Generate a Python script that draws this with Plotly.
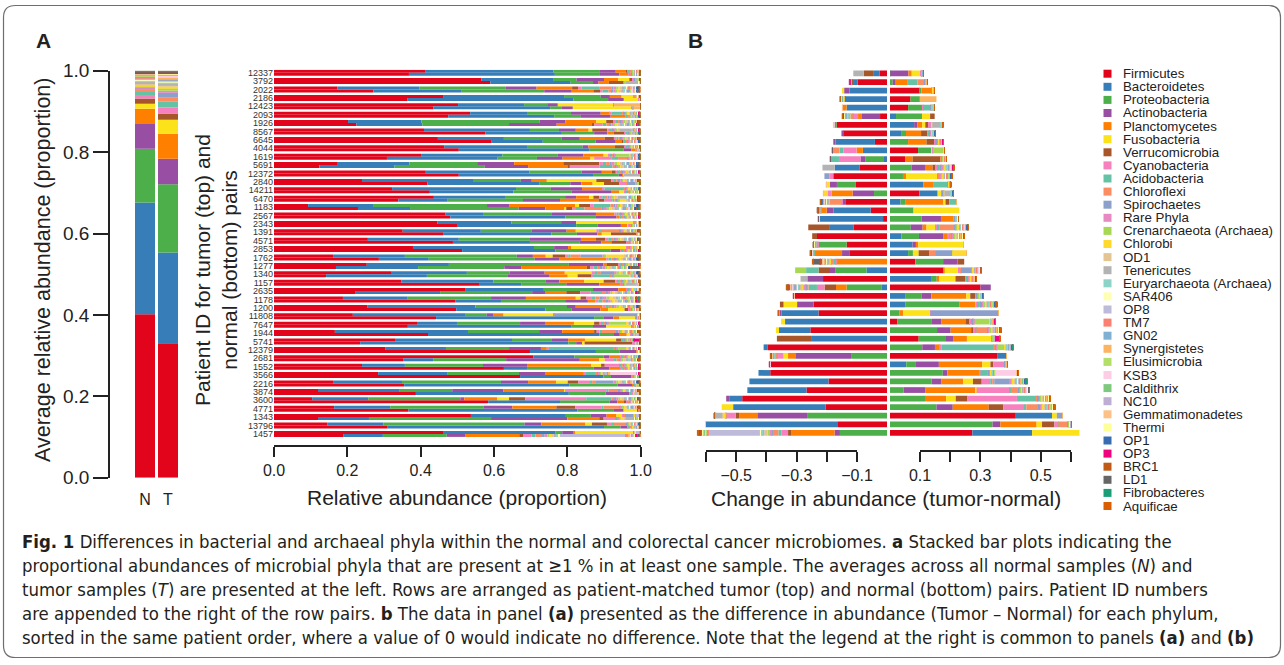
import numpy as np
import plotly.graph_objects as go

W, H = 1284, 665
def px(x): return x / W
def py(y): return 1 - y / H

FONT = "Liberation Sans, Arial, Helvetica, sans-serif"
CAP_FONT = "DejaVu Sans Condensed, Liberation Sans Narrow, Liberation Sans, sans-serif"
INK = "#222222"

PHYLA = ["Firmicutes", "Bacteroidetes", "Proteobacteria", "Actinobacteria", "Planctomycetes",
         "Fusobacteria", "Verrucomicrobia", "Cyanobacteria", "Acidobacteria", "Chloroflexi",
         "Spirochaetes", "Rare Phyla", "Crenarchaeota (Archaea)", "Chlorobi", "OD1", "Tenericutes",
         "Euryarchaeota (Archaea)", "SAR406", "OP8", "TM7", "GN02", "Synergistetes", "Elusimicrobia",
         "KSB3", "Caldithrix", "NC10", "Gemmatimonadetes", "Thermi", "OP1", "OP3", "BRC1", "LD1",
         "Fibrobacteres", "Aquificae"]
COLORS = ["#E2041B", "#377EB8", "#4DAF4A", "#984EA3", "#FF7F00", "#FCE21B", "#A65628", "#F781BF",
          "#66C2A5", "#FC8D62", "#8DA0CB", "#E78AC3", "#A6D854", "#FFD92F", "#E5C494", "#B3B3B3",
          "#8DD3C7", "#FFFFB3", "#BEBADA", "#FB8072", "#80B1D3", "#FDB462", "#B3DE69", "#FCCDE5",
          "#7FC97F", "#BEAED4", "#FDC086", "#FFFF99", "#386CB0", "#F0027F", "#BF5B17", "#666666",
          "#1B9E77", "#D95F02"]

PATIENTS = ["12337", "3792", "2022", "2186", "12423", "2093", "1926", "8567", "6645", "4044", "1619",
            "5691", "12372", "2840", "14211", "6470", "1183", "2567", "2343", "1391", "4571", "2853",
            "1762", "1277", "1340", "1157", "2635", "1178", "1200", "11808", "7647", "1944", "5741",
            "12379", "2681", "1552", "3566", "2216", "3874", "3600", "4771", "1343", "13796", "1457"]

# ---- tumor rows (top of each pair) ----
T_FIRMICUTES = [.412, .566, .173, .461, .502, .535, .202, .409, .447, .464, .401, .174, .414, .240, .322,
                .436, .093, .468, .445, .351, .256, .379, .161, .253, .319, .347, .521, .188, .254, .215,
                .390, .166, .330, .303, .707, .240, .284, .161, .120, .104, .164, .537, .145, .463]
T_BACTEROIDETES = [.350, .197, .224, .330, .180, .155, .200, .289, .180, .226, .222, .195, .283, .305, .338,
                   .194, .177, .102, .202, .213, .248, .330, .196, .224, .207, .251, .215, .175, .295, .308,
                   .109, .363, .319, .166, .112, .117, .188, .188, .221, .153, .153, .259, .153, .305]
T_PROTEOBACTERIA = [.125, .062, .234, .100, .063, .120, .322, .079, .158, .152, .151, .185, .142, .128, .095,
                    .164, .311, .188, .136, .139, .194, .055, .305, .327, .117, .142, .134, .229, .250, .057,
                    .172, .194, .109, .172, .080, .213, .196, .270, .145, .251, .254, .068, .385, .018]
T_ACTINOBACTERIA = [.045, .075, .085, .025, .029, .081, .070, .046, .049, .015, .070, .101, .055, .030, .085,
                    .030, .060, .120, .041, .095, .139, .038, .044, .094, .095, .038, .069, .095, .024, .019,
                    .068, .063, .044, .087, .016, .120, .071, .074, .139, .011, .079, .043, .046, .032]
T_PLANCTOMYCETES = [.029, .039, .097, .032, 0, .025, .085, .035, .068, .073, .055, .134, .027, .041, .056,
                    .035, .180, .050, 0, .025, .041, .008, .035, .010, .055, .068, .023, .136, .073, .027,
                    .079, .087, .046, .016, .029, .175, .106, .076, .166, .090, .120, .027, .120, .004]
T_FUSOBACTERIA = [0, .030, 0, .032, .152, 0, .027, .010, 0, 0, .014, 0, 0, .135, 0,
                  .012, .011, 0, .156, .056, 0, .150, .019, 0, .073, .053, 0, .013, 0, .136,
                  .055, 0, .085, 0, 0, .027, 0, .032, .003, .032, 0, .016, .018, .157]
T_VERRUCOMICROBIA = [.004, .009, .016, 0, 0, 0, .020, .041, .025, .027, 0, .098, .011, .041, 0,
                     .016, .030, 0, 0, 0, .025, 0, .035, .032, 0, .032, 0, .016, 0, 0,
                     .015, .007, .015, 0, 0, .010, 0, .029, 0, .044, .052, 0, .041, 0]

# ---- normal rows (bottom of each pair) ----
N_FIRMICUTES = [.368, .590, .271, .363, .434, .475, .225, .576, .592, .504, .308, .124, .504, .418, .425,
                .339, .229, .481, .499, .461, .488, .513, .286, .169, .142, .559, .221, .494, .497, .442,
                .365, .420, .235, .698, .352, .627, .671, .355, .387, .584, .367, .120, .310, .190]
N_BACTEROIDETES = [.398, .219, .241, .454, .319, .289, .180, .209, .141, .357, .302, .205, .366, .305, .228,
                   .133, .142, .314, .325, .295, .210, .255, .136, .224, .275, .115, .232, .125, .243, .431,
                   .447, .467, .568, .180, .082, .063, .227, .450, .417, .196, .460, .139, .590, .107]
N_PROTEOBACTERIA = [.121, .061, .225, .094, .032, .073, .236, .088, .144, .092, .107, .246, .070, .085, .158,
                    .207, .296, .083, .058, .070, .136, .150, .289, .235, .221, .123, .251, .175, .071, .025,
                    .058, .038, .021, .065, .199, .181, .021, .132, .100, .135, .100, .333, .045, .174]
N_ACTINOBACTERIA = [.055, .015, .075, .043, .030, .081, .130, .036, .055, .022, .070, .118, .011, .030, .108,
                    .101, .073, .056, .064, .056, .059, .027, .068, .046, .112, .090, .035, .062, .079, .027,
                    .036, .018, .016, .045, .201, .044, .056, .041, .066, .021, .025, .208, .020, .050]
N_PLANCTOMYCETES = [.025, .028, .059, 0, 0, .040, .098, .018, .018, .012, .076, .109, .002, .031, .023,
                    .105, .052, .007, .017, .012, .027, 0, .127, .179, .051, .059, .058, .020, .021, .016,
                    0, .019, .002, 0, .053, .031, 0, .004, 0, .020, .001, .087, 0, .148]
N_FUSOBACTERIA = [0, 0, 0, .039, .161, 0, 0, 0, 0, 0, .010, 0, 0, .031, .013,
                  0, .005, 0, .004, .025, 0, 0, 0, 0, .027, 0, 0, 0, .045, .045,
                  .068, .010, .005, 0, .015, 0, 0, 0, 0, 0, .038, 0, 0, 0]
N_VERRUCOMICROBIA = [0, .040, .018, 0, 0, 0, .005, .030, .003, 0, 0, .004, 0, .041, 0,
                     .016, .017, 0, 0, .069, .041, 0, 0, .010, .038, 0, .038, 0, .012, 0,
                     0, 0, .131, 0, 0, 0, 0, 0, 0, .005, .003, .012, 0, .010]

# ---- notable minor-phylum segments (patient, sample, phylum, value) ----
EXTRA_PATIENT = ["2022", "2022", "12423", "2093", "8567", "1619", "14211", "6470", "1183", "1391",
                 "1762", "1762", "1762", "1340", "11808", "7647", "1944", "5741", "12379", "12379",
                 "1552", "3566", "3566", "2216", "2216", "3874", "3874", "3600", "3600", "4771", "4771",
                 "1343", "13796", "13796", "1457",
                 "3792", "2022", "12423", "1926", "1619", "1619", "1619", "5691", "5691", "12372",
                 "2840", "2840", "14211", "6470", "6470", "1183", "1183", "1277", "1340", "1340",
                 "1157", "2635", "2635", "2681", "1343", "1343", "1343", "1457", "1457", "1457"]
EXTRA_SAMPLE = ["T"] * 35 + ["N"] * 30
EXTRA_PHYLUM = ["Acidobacteria", "Chloroflexi", "Synergistetes", "Acidobacteria", "Tenericutes",
                "Crenarchaeota (Archaea)", "Acidobacteria", "Tenericutes", "Acidobacteria", "Chloroflexi",
                "Spirochaetes", "Chlorobi", "Chloroflexi", "Spirochaetes", "Spirochaetes",
                "Crenarchaeota (Archaea)", "Chloroflexi", "OP3", "Acidobacteria", "Crenarchaeota (Archaea)",
                "Cyanobacteria", "Acidobacteria", "KSB3", "Spirochaetes", "Cyanobacteria",
                "Cyanobacteria", "Chloroflexi", "Cyanobacteria", "Acidobacteria", "Cyanobacteria", "Chloroflexi",
                "Spirochaetes", "Chloroflexi", "Cyanobacteria", "OP8",
                "Tenericutes", "Acidobacteria", "Synergistetes", "Cyanobacteria", "Cyanobacteria",
                "Acidobacteria", "Chloroflexi", "Cyanobacteria", "Acidobacteria", "Tenericutes",
                "Cyanobacteria", "Spirochaetes", "Acidobacteria", "Cyanobacteria", "Chlorobi",
                "Acidobacteria", "Chloroflexi", "LD1", "Acidobacteria", "Crenarchaeota (Archaea)",
                "Tenericutes", "Cyanobacteria", "Acidobacteria", "Cyanobacteria", "Cyanobacteria",
                "Tenericutes", "Chlorobi", "OP8", "Cyanobacteria", "Chloroflexi"]
EXTRA_VALUE = [.040, .025, .073, .023, .028, .034, .048, .020, .039, .045,
               .055, .045, .020, .030, .225, .045, .032, .015, .170, .020,
               .036, .020, .070, .044, .020, .105, .020, .158, .061, .064, .036,
               .020, .030, .010, .010,
               .035, .007, .018, .015, .045, .013, .022, .075, .028, .044,
               .018, .021, .004, .017, .016, .011, .035, .020, .045, .040,
               .024, .020, .020, .020, .030, .020, .010, .175, .015, .010]

# relative make-up of the thin multicoloured tail (phyla 8..34), tumor / normal
TAIL_WEIGHTS_T = [9, 8, 8, 6, 7, 6, 6, 5, 5, 4, 3, 3, 3, 3, 3, 3, 2, 2, 2, 2, 2, 2, 1.5, 2, 1.5, 1.5, 2]
TAIL_WEIGHTS_N = [7, 9, 9, 4, 6, 5, 4, 6, 7, 4, 3, 4, 3, 3, 2, 3, 3, 2, 2, 3, 2, 2, 2, 2, 2, 1.5, 2]

# order of rows in panel B (top to bottom)
B_ORDER = ["3792", "2022", "2186", "12423", "2093", "1926", "8567", "6645", "4044", "1619", "5691",
           "12372", "2840", "14211", "6470", "1183", "2343", "2567", "1391", "4571", "2853", "1762",
           "1277", "1340", "1157", "2635", "1178", "1200", "11808", "7647", "1944", "5741", "12379",
           "2681", "1552", "3566", "2216", "3874", "3600", "4771", "1343", "13796", "1457"]

# ---------------- build compositions ----------------
n_p, n_k = len(PATIENTS), len(PHYLA)
def build(main_cols, sample, weights):
    comp = np.zeros((n_p, n_k))
    for k, col in enumerate(main_cols):
        comp[:, k] = col
    for pid, s, ph, v in zip(EXTRA_PATIENT, EXTRA_SAMPLE, EXTRA_PHYLUM, EXTRA_VALUE):
        if s == sample:
            comp[PATIENTS.index(pid), PHYLA.index(ph)] += v
    rest = np.clip(1 - comp.sum(axis=1), 0, None)
    w = np.array(weights, dtype=float)
    comp[:, 7:] += np.outer(rest, w / w.sum())
    return comp

comp_T = build([T_FIRMICUTES, T_BACTEROIDETES, T_PROTEOBACTERIA, T_ACTINOBACTERIA,
                T_PLANCTOMYCETES, T_FUSOBACTERIA, T_VERRUCOMICROBIA], "T", TAIL_WEIGHTS_T)
comp_N = build([N_FIRMICUTES, N_BACTEROIDETES, N_PROTEOBACTERIA, N_ACTINOBACTERIA,
                N_PLANCTOMYCETES, N_FUSOBACTERIA, N_VERRUCOMICROBIA], "N", TAIL_WEIGHTS_N)
mean_N = comp_N.mean(axis=0)
mean_T = comp_T.mean(axis=0)
b_idx = [PATIENTS.index(p) for p in B_ORDER]
diff = comp_T[b_idx] - comp_N[b_idx]

PITCH = 2.8
y_T = [PITCH * i for i in range(n_p)]
y_N = [PITCH * i + 1 for i in range(n_p)]
y_lab = [PITCH * i + 0.5 for i in range(n_p)]
y_B = list(range(len(B_ORDER)))

fig = go.Figure()
for k, (name, col) in enumerate(zip(PHYLA, COLORS)):
    fig.add_trace(go.Bar(x=[0, 1], y=[mean_N[k], mean_T[k]], width=0.87, marker=dict(color=col, line_width=0),
                         xaxis="x", yaxis="y", name=name, showlegend=False, hoverinfo="skip"))
    fig.add_trace(go.Bar(x=list(comp_T[:, k]) + list(comp_N[:, k]), y=y_T + y_N, orientation="h", width=1,
                         marker=dict(color=col, line_width=0), xaxis="x2", yaxis="y2", name=name,
                         showlegend=False, hoverinfo="skip"))
    fig.add_trace(go.Bar(x=np.minimum(diff[:, k], 0), y=y_B, orientation="h", width=0.67,
                         marker=dict(color=col, line_width=0), xaxis="x3", yaxis="y3", name=name,
                         showlegend=False, hoverinfo="skip"))
    fig.add_trace(go.Bar(x=np.maximum(diff[:, k], 0), y=y_B, orientation="h", width=0.67,
                         marker=dict(color=col, line_width=0), xaxis="x4", yaxis="y3", name=name,
                         showlegend=False, hoverinfo="skip"))
# carriers for the two tick-only axes of panel B
fig.add_trace(go.Scatter(x=[-0.6, -0.1], y=[0, 0], mode="markers", marker=dict(opacity=0), xaxis="x5",
                         yaxis="y3", showlegend=False, hoverinfo="skip"))
fig.add_trace(go.Scatter(x=[0.1, 0.6], y=[0, 0], mode="markers", marker=dict(opacity=0), xaxis="x6",
                         yaxis="y3", showlegend=False, hoverinfo="skip"))

hidden = dict(visible=False, showgrid=False, zeroline=False, fixedrange=True)
tick_axis = dict(showline=True, linecolor=INK, linewidth=1.6, ticks="outside", ticklen=10, tickwidth=1.6,
                 tickcolor=INK, showgrid=False, zeroline=False, tickfont=dict(size=16, color=INK),
                 fixedrange=True)

B_SCALE = 181 / 0.6  # px per unit in panel B

fig.update_layout(
    width=W, height=H, margin=dict(l=0, r=0, t=0, b=0), template="none", barmode="relative",
    paper_bgcolor="white", plot_bgcolor="rgba(0,0,0,0)", font=dict(family=FONT, color=INK),
    xaxis=dict(domain=[px(133.5), px(179.5)], range=[-0.5, 1.5], tickvals=[0, 1], ticktext=["N", "T"],
               ticks="", showline=False, showgrid=False, zeroline=False, tickfont=dict(size=16),
               ticklabelstandoff=10, anchor="y", fixedrange=True),
    yaxis=dict(domain=[py(477.7), py(70.7)], range=[0, 1], anchor="free", position=px(109),
               tickvals=[0, .2, .4, .6, .8, 1], ticktext=["0.0", "0.2", "0.4", "0.6", "0.8", "1.0"],
               showline=True, linecolor=INK, linewidth=1.6, ticks="outside", ticklen=15, tickwidth=1.6,
               tickcolor=INK, showgrid=False, zeroline=False, tickfont=dict(size=19), fixedrange=True),
    xaxis2=dict(domain=[px(274), px(640.7)], range=[0, 1], anchor="free", position=py(446),
                tickvals=[0, .2, .4, .6, .8, 1], ticktext=["0.0", "0.2", "0.4", "0.6", "0.8", "1.0"],
                **tick_axis),
    yaxis2=dict(domain=[py(436.9), py(69.7)], range=[PITCH * (n_p - 1) + 1.5, -0.5], anchor="x2",
                tickvals=y_lab, ticktext=PATIENTS, ticks="", showline=False, showgrid=False, zeroline=False,
                tickfont=dict(size=9, color="#333333"), fixedrange=True),
    xaxis3=dict(domain=[px(887 - 0.66 * B_SCALE), px(887)], range=[-0.66, 0], anchor="y3", **hidden),
    xaxis4=dict(domain=[px(890), px(890 + 0.66 * B_SCALE)], range=[0, 0.66], anchor="y3", **hidden),
    yaxis3=dict(domain=[py(437.1), py(69.2)], range=[len(B_ORDER) - 0.5, -0.5], anchor="x3", **hidden),
    xaxis5=dict(domain=[px(706), px(857)], range=[-0.6, -0.1], anchor="free", position=py(451),
                tickvals=[-0.6, -0.5, -0.4, -0.3, -0.2, -0.1], ticktext=["", "\u22120.5", "", "\u22120.3", "", "\u22120.1"],
                **tick_axis),
    xaxis6=dict(domain=[px(920), px(1071)], range=[0.1, 0.6], anchor="free", position=py(451),
                tickvals=[0.1, 0.2, 0.3, 0.4, 0.5, 0.6], ticktext=["0.1", "", "0.3", "", "0.5", ""],
                **tick_axis),
)

ann = []
def text(x, y, s, size, **kw):
    d = dict(x=px(x), y=py(y), xref="paper", yref="paper", text=s, showarrow=False,
             xanchor="center", yanchor="middle",
             font=dict(size=size, family=kw.pop("family", FONT), color=kw.pop("color", INK)))
    d.update(kw)
    ann.append(d)

text(44, 41, "<b>A</b>", 21)
text(696, 41, "<b>B</b>", 21)
text(43, 270, "Average relative abundance (proportion)", 21.5, textangle=-90)
text(216, 270, "Patient ID for tumor (top) and<br>normal (bottom) pairs", 21, textangle=-90)
text(457.4, 497, "Relative abundance (proportion)", 21)
text(886, 498, "Change in abundance (tumor-normal)", 21)

shapes = []
for i, (name, col) in enumerate(zip(PHYLA, COLORS)):
    yc = 73.7 + 13.1 * i
    shapes.append(dict(type="rect", xref="paper", yref="paper", x0=px(1103.5), x1=px(1111.5),
                       y0=py(yc + 4), y1=py(yc - 4), fillcolor=col, line_width=0))
    text(1121, yc, name, 13.3, xanchor="left")

CAPTION = [
    "<b>Fig. 1</b> Differences in bacterial and archaeal phyla within the normal and colorectal cancer microbiomes. <b>a</b> Stacked bar plots indicating the",
    "proportional abundances of microbial phyla that are present at \u22651 % in at least one sample. The averages across all normal samples (<i>N</i>) and",
    "tumor samples (<i>T</i>) are presented at the left. Rows are arranged as patient-matched tumor (top) and normal (bottom) pairs. Patient ID numbers",
    "are appended to the right of the row pairs. <b>b</b> The data in panel <b>(a)</b> presented as the difference in abundance (Tumor \u2013 Normal) for each phylum,",
    "sorted in the same patient order, where a value of 0 would indicate no difference. Note that the legend at the right is common to panels <b>(a)</b> and <b>(b)</b>",
]
for j, line in enumerate(CAPTION):
    text(20, 541 + 24 * j, line, 18.4, xanchor="left", color="#231F20", family=CAP_FONT)

# rounded frame
x0, y0, x1, y1, r = 3.5, 5.5, 1280.5, 657.5, 12
def P(x, y): return f"{px(x):.5f},{py(y):.5f}"
path = (f"M {P(x0 + r, y0)} L {P(x1 - r, y0)} Q {P(x1, y0)} {P(x1, y0 + r)} L {P(x1, y1 - r)} "
        f"Q {P(x1, y1)} {P(x1 - r, y1)} L {P(x0 + r, y1)} Q {P(x0, y1)} {P(x0, y1 - r)} "
        f"L {P(x0, y0 + r)} Q {P(x0, y0)} {P(x0 + r, y0)} Z")
shapes.append(dict(type="path", xref="paper", yref="paper", path=path, line=dict(color="#6E6E6E", width=1.2)))

fig.update_layout(annotations=ann, shapes=shapes)
fig.write_html("out.html")
